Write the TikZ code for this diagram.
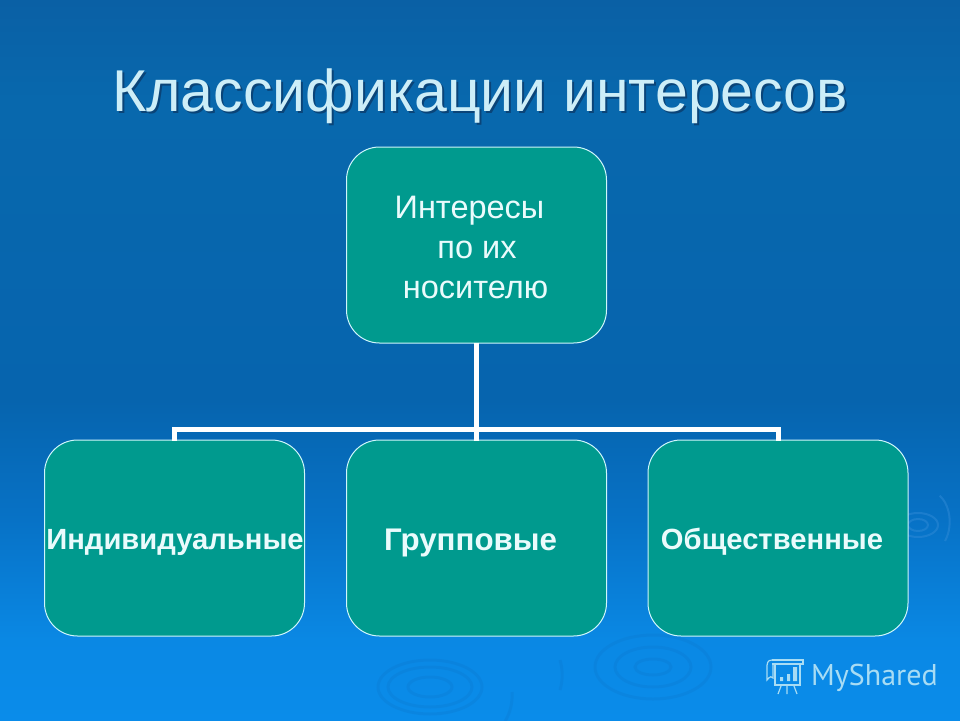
\documentclass[tikz,border=0pt]{standalone}
\usepackage{fontspec}
\setmainfont{Liberation Sans}
\newfontfamily\logofont{PT Sans}
\definecolor{bga}{HTML}{0A60A5}
\definecolor{bgb}{HTML}{0868AD}
\definecolor{bgc}{HTML}{0664AE}
\definecolor{bgd}{HTML}{0772C6}
\definecolor{bge}{HTML}{0A88E4}
\definecolor{bgf}{HTML}{0A8CEA}
\definecolor{boxteal}{HTML}{009A8E}
\definecolor{boxline}{HTML}{CFF6FC}
\definecolor{titlecol}{HTML}{CDEEF8}
\definecolor{shadowcol}{HTML}{0A4478}
\definecolor{labelcol}{HTML}{EAFBFC}
\definecolor{logocol}{HTML}{A8DCF4}
\definecolor{rippledark}{HTML}{0A78CE}
\definecolor{ripplelight}{HTML}{2F8AD6}
% the path covers 25bp..75bp of the shading: y px -> 25+(720-y)/14.4
\pgfdeclareverticalshading{bgshade}{100bp}{color(0bp)=(bgf); color(25bp)=(bgf); color(30.6bp)=(bge); color(38.9bp)=(bgd); color(47.2bp)=(bgc); color(68bp)=(bgb); color(75bp)=(bga); color(100bp)=(bga)}
\tikzset{
  box/.style={draw=boxline,line width=1pt,fill=boxteal,rounded corners=33pt,minimum width=260pt,minimum height=196pt,inner sep=0pt},
  link/.style={draw=white,line width=5pt},
  boldlabel/.style={text=labelcol,font=\bfseries\fontsize{29.2}{34}\selectfont,inner sep=0pt,anchor=base},
  toplabel/.style={text=labelcol,font=\fontsize{32.5}{38}\selectfont,inner sep=0pt,anchor=base},
  ripple/.style={draw=rippledark,line width=3pt,opacity=.3},
  rippleb/.style={draw=ripplelight,line width=2pt,opacity=.5},
  logo/.style={draw=logocol,line width=1.2pt}
}
\begin{document}
\begin{tikzpicture}[x=1pt,y=-1pt]
\useasboundingbox (0,0) rectangle (960,720);
\shade[shading=bgshade] (0,0) rectangle (960,720);
% ripples
\draw[ripple] (430,687) ellipse (52 and 27);
\draw[ripple] (430,687) ellipse (42 and 20);
\draw[ripple] (430,687) ellipse (22 and 10);
\draw[ripple] (653,667) ellipse (58 and 32);
\draw[ripple] (653,667) ellipse (38 and 20);
\draw[ripple] (653,667) ellipse (18 and 8);
\draw[ripple] (512,692) arc (-5:40:30 and 40);
\draw[ripple] (560,660) arc (-30:30:16 and 30);
\draw[rippleb] (918,525) ellipse (10 and 6);
\draw[rippleb] (918,525) ellipse (20 and 12);
\draw[rippleb] (945,541) arc (40:-60:20 and 30);
% title
\node[text=shadowcol,font=\fontsize{59}{70}\selectfont,inner sep=0pt,anchor=base] (titleshadow) at (482,113) {Классификации интересов};
\node[text=titlecol,font=\fontsize{59}{70}\selectfont,inner sep=0pt,anchor=base] (title) at (480,111) {Классификации интересов};
% boxes
\node[box] (top) at (476.5,245) {};
\node[box] (left) at (174.5,538) {};
\node[box] (mid) at (476.5,538) {};
\node[box] (right) at (778,538) {};
% connectors
\draw[link] ([yshift=1pt]top.south) -- ([yshift=-1pt]mid.north);
\draw[link] ([yshift=-1pt]left.north) -- ++(0,-11) -| ([yshift=-1pt]right.north);
% labels
\node[toplabel] (l1) at (469.5,218) {Интересы};
\node[toplabel] (l2) at (477,258) {по их};
\node[toplabel] (l3) at (475.5,298) {носителю};
\node[boldlabel] (lleft) at (175,549) {Индивидуальные};
\node[boldlabel,font=\bfseries\fontsize{31.3}{36}\selectfont] (lmid) at (470.5,550) {Групповые};
\node[boldlabel] (lright) at (772,549) {Общественные};
% logo
\node[text=logocol,font=\logofont\fontsize{30}{36}\selectfont,inner sep=0pt,anchor=base west] (brand) at (811,685) {MyShared};
\draw[logo] (772,660) -- (803,660) -- (803,664) -- (772,664);
\draw[logo] (772,660) .. controls (767,660) and (767,664) .. (767,668) -- (767,680) .. controls (770,676) and (772,676) .. (773,678) -- (773,664);
\draw[logo] (775,664) -- (775,685) -- (800,685) -- (800,664);
\draw[logo] (781,686) -- (778,694) (787,686) -- (787,694) (794,686) -- (797,694);
\fill[logocol] (780,677) rectangle (783,681) (787,674) rectangle (790,681) (793,667) rectangle (797,681);
\end{tikzpicture}
\end{document}
